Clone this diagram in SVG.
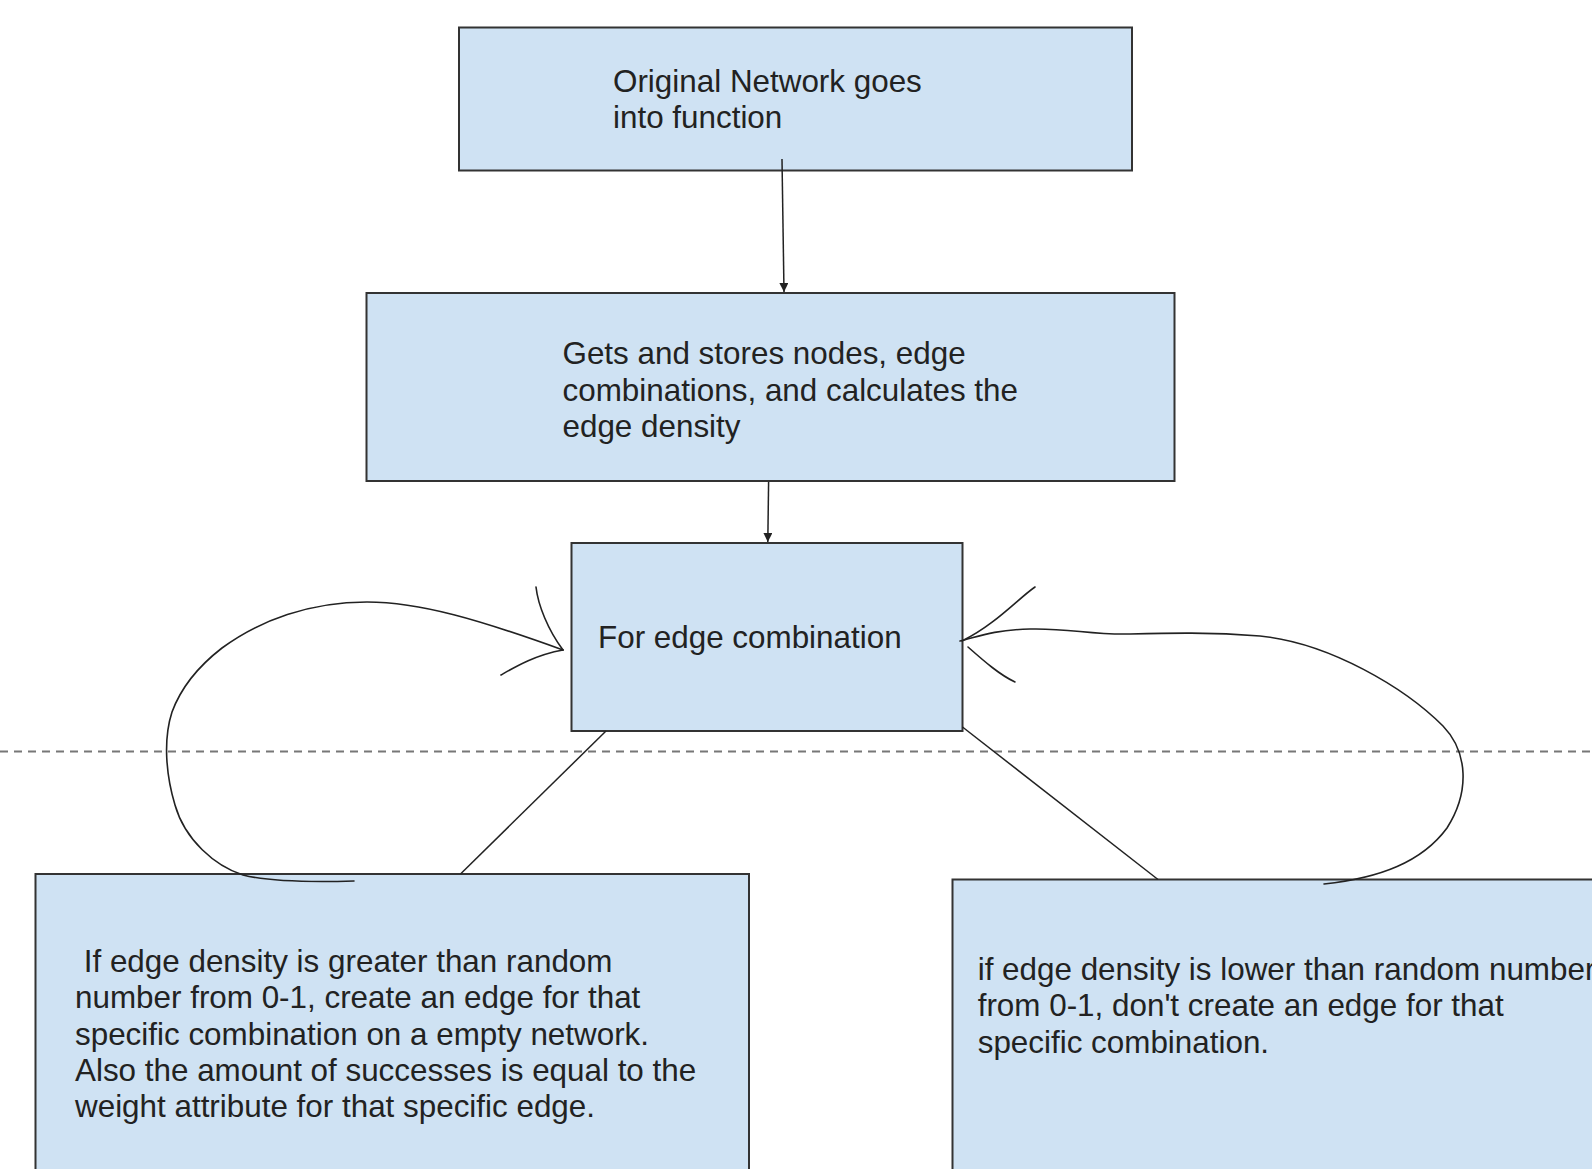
<svg xmlns="http://www.w3.org/2000/svg" width="1592" height="1169" viewBox="0 0 1592 1169">
  <style>
    .box { fill: #cfe2f3; stroke: #333333; stroke-width: 2; }
    .label { font-family: "Liberation Sans", Arial, sans-serif; font-size: 31.4px; fill: #222222; }
    .link { fill: none; stroke: #222222; stroke-width: 1.5; }
    .sketch { fill: none; stroke: #222222; stroke-width: 1.6; stroke-linecap: round; }
    .divider { stroke: #777777; stroke-width: 2; stroke-dasharray: 8 6; }
  </style>
  <defs>
    <marker id="head" markerUnits="userSpaceOnUse" markerWidth="10" markerHeight="10" refX="9" refY="4.5" orient="auto">
      <path d="M0,0 L9,4.5 L0,9 z" fill="#222222"/>
    </marker>
  </defs>

  <rect width="1592" height="1169" fill="#ffffff"/>

  <!-- dashed divider across the page -->
  <line class="divider" x1="0" y1="751.5" x2="1592" y2="751.5"/>

  <g id="node-input">
    <rect class="box" x="459" y="27.5" width="673" height="143"/>
    <text class="label" x="613" y="91.5">Original Network goes</text>
    <text class="label" x="613" y="127.5">into function</text>
  </g>

  <g id="node-prepare">
    <rect class="box" x="366.5" y="293" width="808" height="188"/>
    <text class="label" x="562.5" y="364">Gets and stores nodes, edge</text>
    <text class="label" x="562.5" y="400.5">combinations, and calculates the</text>
    <text class="label" x="562.5" y="437">edge density</text>
  </g>

  <g id="node-loop">
    <rect class="box" x="571.5" y="543" width="391" height="188"/>
    <text class="label" x="598" y="647.5">For edge combination</text>
  </g>

  <g id="node-create">
    <rect class="box" x="35.5" y="874" width="713.5" height="310"/>
    <text class="label" x="75" y="971.5" xml:space="preserve"> If edge density is greater than random</text>
    <text class="label" x="75" y="1008">number from 0-1, create an edge for that</text>
    <text class="label" x="75" y="1044.5">specific combination on a empty network.</text>
    <text class="label" x="75" y="1081">Also the amount of successes is equal to the</text>
    <text class="label" x="75" y="1117">weight attribute for that specific edge.</text>
  </g>

  <g id="node-skip">
    <rect class="box" x="952.5" y="879.5" width="660" height="310"/>
    <text class="label" x="977.7" y="979.5">if edge density is lower than random number</text>
    <text class="label" x="977.7" y="1016">from 0-1, don't create an edge for that</text>
    <text class="label" x="977.7" y="1052.5">specific combination.</text>
  </g>

  <g id="connectors">
    <line class="link" x1="782" y1="159" x2="784" y2="292" marker-end="url(#head)"/>
    <line class="link" x1="768.6" y1="482" x2="767.8" y2="542" marker-end="url(#head)"/>
    <line class="link" x1="606" y1="731" x2="460.5" y2="874"/>
    <line class="link" x1="962.5" y1="727" x2="1158" y2="879.5"/>

    <!-- hand-drawn loop back on the left -->
    <path class="sketch" d="M354,881 C320,882 270,882 243,875 C215,866 185,840 175,805 C166,775 163,740 172,712 C182,685 200,665 222,648 C260,620 310,602 367,602 C420,602 480,620 563,650"/>
    <path class="sketch" d="M536,587 C538,605 548,630 563,650"/>
    <path class="sketch" d="M501,675 C515,667 535,655 563,650"/>

    <!-- hand-drawn loop back on the right -->
    <path class="sketch" d="M960,641 C975,638 990,630 1030,629 C1070,628 1090,635 1130,634 C1170,633 1210,632 1260,636 C1330,643 1405,688 1443,726 C1468,752 1470,792 1447,828 C1422,862 1380,878 1324,884"/>
    <path class="sketch" d="M1035,587 C1020,597 995,625 962,641"/>
    <path class="sketch" d="M968,647 C985,662 1000,675 1015,682"/>
  </g>
</svg>
